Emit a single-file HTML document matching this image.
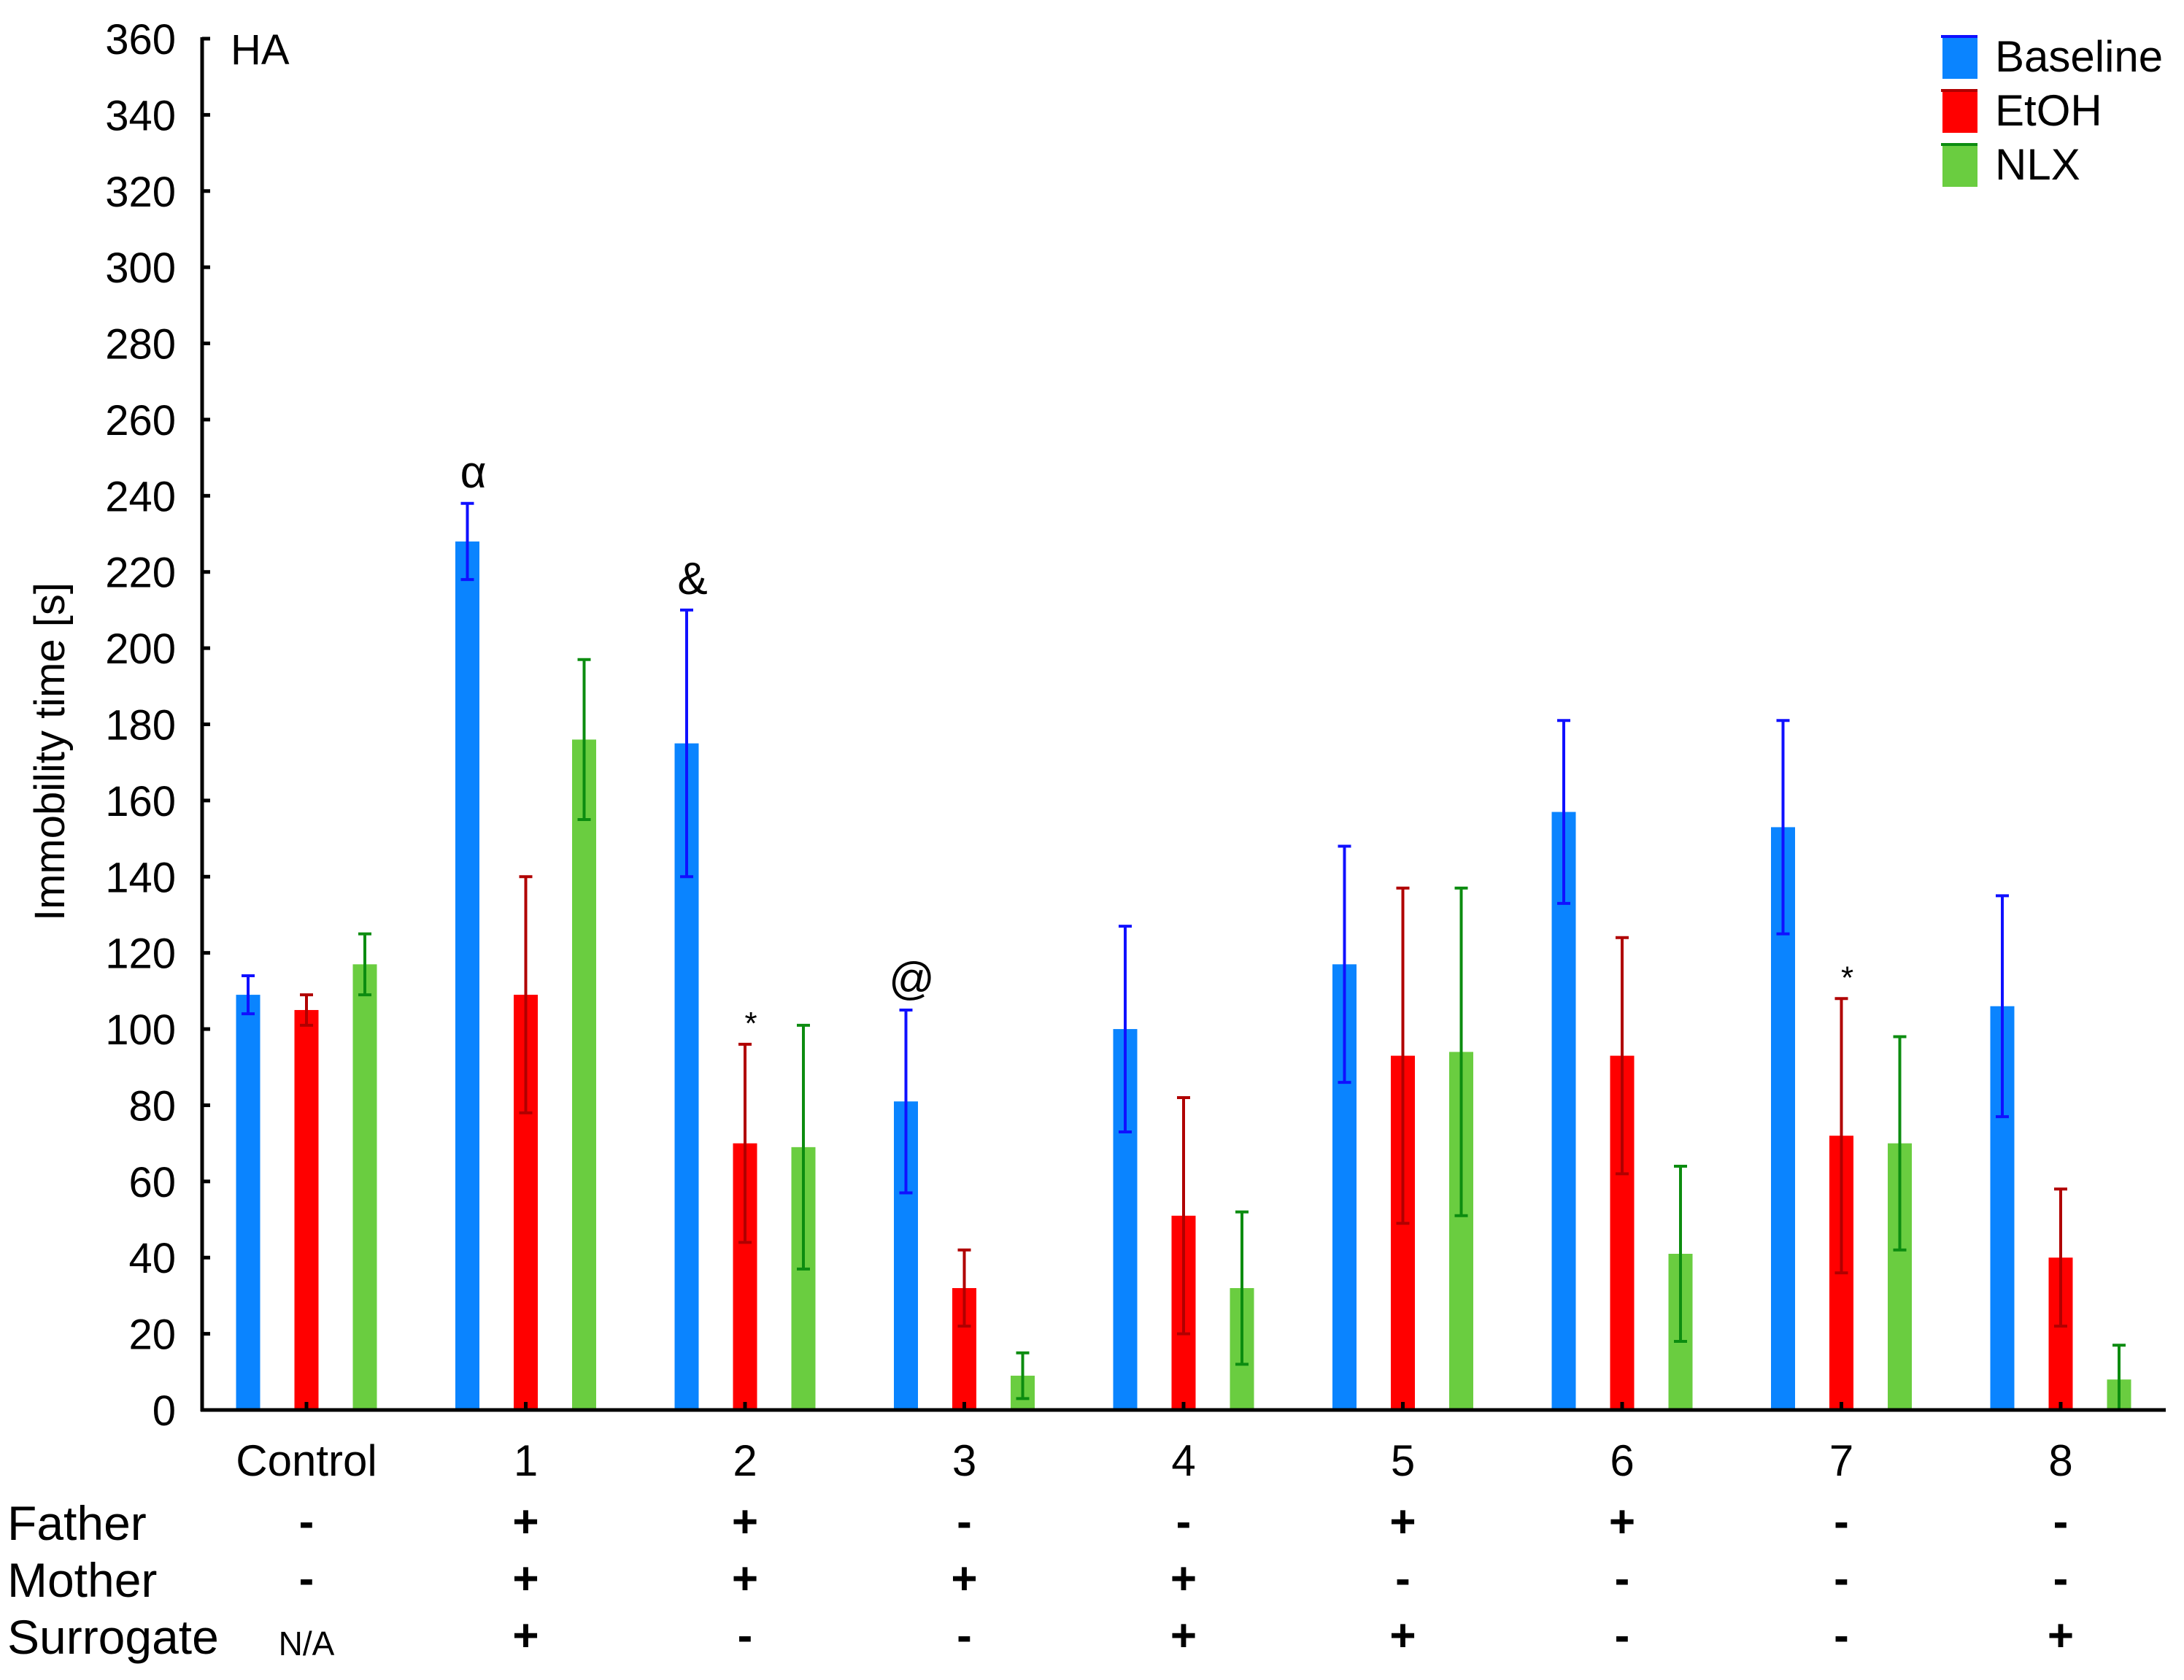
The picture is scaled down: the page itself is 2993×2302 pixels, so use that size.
<!DOCTYPE html>
<html><head><meta charset="utf-8"><style>
html,body{margin:0;padding:0;background:#fff;}
svg{display:block;font-family:"Liberation Sans",Arial,sans-serif;}
</style></head><body>
<svg id="chart" width="2993" height="2302" viewBox="0 0 2993 2302" xmlns="http://www.w3.org/2000/svg">
<text x="316" y="88" font-size="58">HA</text>
<text transform="translate(88,1030) rotate(-90)" text-anchor="middle" font-size="58">Immobility time [s]</text>
<g id="legend"></g>
<g id="plot"></g>
</svg>
<script>
const categories=["Control","1","2","3","4","5","6","7","8"];
const baseline=[109,228,175,81,100,117,157,153,106];
const baselineErr=[5,10,35,24,27,31,24,28,29];
const etoh=[105,109,70,32,51,93,93,72,40];
const etohErr=[4,31,26,10,31,44,31,36,18];
const nlx=[117,176,69,9,32,94,41,70,8];
const nlxErr=[8,21,32,6,20,43,23,28,9];
const yTicks=[0,20,40,60,80,100,120,140,160,180,200,220,240,260,280,300,320,340,360];
const father=["-","+","+","-","-","+","+","-","-"];
const mother=["-","+","+","+","+","-","-","-","-"];
const surrogate=["N/A","+","-","-","+","+","-","-","+"];
const annotations=[{g:1,s:0,t:"α"},{g:2,s:0,t:"&"},{g:2,s:1,t:"*"},{g:3,s:0,t:"@"},{g:7,s:1,t:"*"}];

const NS="http://www.w3.org/2000/svg";
const svg=document.getElementById('plot');
const X0=277,Y0=1932,YTOP=53,XEND=2968;
function y(v){return Y0-(v/360)*(Y0-YTOP);}
function gx(i){return 420+i*300.5;}
function mk(tag,attrs,parent){const e=document.createElementNS(NS,tag);for(const k in attrs)e.setAttribute(k,attrs[k]);(parent||svg).appendChild(e);return e;}

const series=[
 {name:"Baseline",vals:baseline,err:baselineErr,fill:"#0a84ff",ec:"#1010ff"},
 {name:"EtOH",vals:etoh,err:etohErr,fill:"#ff0000",ec:"#b00000"},
 {name:"NLX",vals:nlx,err:nlxErr,fill:"#6acd40",ec:"#0c8c10"}
];
const offs=[-80,0,80],BW=33;
series.forEach((s,si)=>{
 s.vals.forEach((v,i)=>{
  const cx=gx(i)+offs[si];
  const r=mk('rect',{x:cx-BW/2,y:y(v),width:BW,height:Y0-y(v),fill:s.fill});
  
  
  const e=s.err[i];
  const g=mk('g',{stroke:s.ec,'stroke-width':4});
  
  
  mk('line',{x1:cx,x2:cx,y1:y(Math.max(0,v-e)),y2:y(v+e)},g);
  mk('line',{x1:cx-9,x2:cx+9,y1:y(v+e),y2:y(v+e)},g);
  mk('line',{x1:cx-9,x2:cx+9,y1:y(Math.max(0,v-e)),y2:y(Math.max(0,v-e))},g);
 });
});
const ax=mk('g',{stroke:'#000','stroke-width':5});


mk('line',{x1:X0,x2:X0,y1:YTOP-2,y2:Y0+2},ax);
mk('line',{x1:X0-2,x2:XEND,y1:Y0,y2:Y0},ax);
yTicks.forEach(t=>{
 mk('line',{x1:X0,x2:X0+11,y1:y(t),y2:y(t)},ax);
 const tx=mk('text',{x:X0-36,y:y(t)+21,'text-anchor':'end','font-size':58});
 tx.textContent=t;
 
 
});
categories.forEach((c,i)=>{
 mk('line',{x1:gx(i),x2:gx(i),y1:Y0-11,y2:Y0},ax);
 const t=mk('text',{x:gx(i),y:2022,'text-anchor':'middle','font-size':60});
 t.textContent=c;
 
 
});
const rows=[["Father",father,2110],["Mother",mother,2188],["Surrogate",surrogate,2266]];
rows.forEach(r=>{
 const l=mk('text',{x:10,y:r[2],'font-size':66});
 l.textContent=r[0];
 
 
 r[1].forEach((v,i)=>{
  const t=mk('text',{x:gx(i),y:r[2]-(v==="N/A"?-2:4),'text-anchor':'middle','font-size':v==="N/A"?46:62,'font-weight':v==="N/A"?'normal':'bold'});
  t.textContent=v;
  
  
 });
});
annotations.forEach(a=>{
 const s=series[a.s];const v=s.vals[a.g]+s.err[a.g];
 const t=mk('text',{x:gx(a.g)+offs[a.s]+8,y:y(v)-(a.t==="*"?14:22),'text-anchor':'middle','font-size':a.t==="*"?44:62});
 t.textContent=a.t;
 
 
});
const lg=document.getElementById('legend');
series.forEach((s,i)=>{
 const yy=50+i*74;
 const r=mk('rect',{x:2662,y:yy,width:48,height:58,fill:s.fill},lg);
 
 
 mk('line',{x1:2660,x2:2710,y1:yy,y2:yy,stroke:s.ec,'stroke-width':4},lg);
 const t=mk('text',{x:2734,y:yy+48,'font-size':60},lg);
 t.textContent=s.name;
 
 
});
</script>
</body></html>
